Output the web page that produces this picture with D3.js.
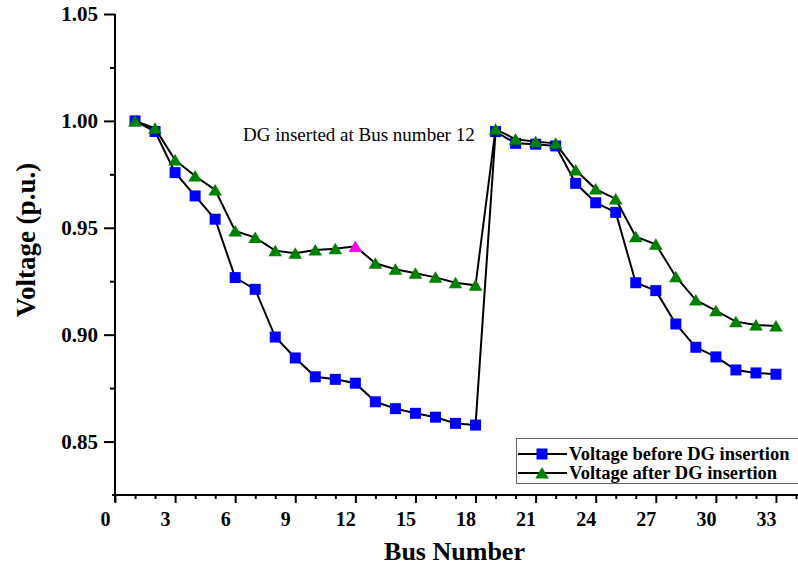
<!DOCTYPE html>
<html>
<head>
<meta charset="utf-8">
<script src="https://d3js.org/d3.v7.min.js"></script>
<style>
  html, body { margin: 0; padding: 0; background: #fff; }
  svg { display: block; }
  text { font-family: "Liberation Serif", "Times New Roman", serif; }
</style>
</head>
<body>
<svg id="chart" width="798" height="566"></svg>
<script>
// ---------- data ----------
const buses = [1,2,3,4,5,6,7,8,9,10,11,12,13,14,15,16,17,18,19,20,21,22,23,24,25,26,27,28,29,30,31,32,33];
const voltageBefore = [1.000,0.995,0.9758,0.9649,0.9540,0.9267,0.9212,0.8989,0.8891,0.8803,0.8791,0.8773,
  0.8686,0.8654,0.8632,0.8614,0.8585,0.8577,0.9950,0.9895,0.9891,0.9883,0.9708,0.9617,0.9572,0.9243,
  0.9206,0.9050,0.8941,0.8896,0.8835,0.8821,0.8815];
const voltageAfter = [1.000,0.9965,0.9817,0.9742,0.9677,0.9485,0.9454,0.9393,0.9381,0.9396,0.9402,0.9413,
  0.9334,0.9306,0.9287,0.9268,0.9243,0.9231,0.9961,0.9914,0.9903,0.9895,0.9770,0.9681,0.9635,0.9458,
  0.9423,0.9271,0.9162,0.9112,0.9061,0.9045,0.9041];
const dgBus = 12;
const xTicks = [0,3,6,9,12,15,18,21,24,27,30,33];
const xMinorTicks = [1,2,4,5,7,8,10,11,13,14,16,17,19,20,22,23,25,26,28,29,31,32,34];
const yTicks = [0.85,0.90,0.95,1.00,1.05];
const yMinorTicks = [0.875,0.925,0.975,1.025];
const seriesNames = ["Voltage before DG insertion","Voltage after DG insertion"];
const annotation = "DG inserted at Bus number 12";

(function () {
// ---------- layout ----------
const svg = d3.select("#chart");
const pL = 115, pR = 796, pT = 14, pB = 495;
const x = d3.scaleLinear().domain([0, 34]).range([pL, pR]);
const y = d3.scaleLinear().domain([0.825, 1.05]).range([pB, pT]);
const font = '"Liberation Serif", "Times New Roman", serif';

// minor ticks
svg.append("g").attr("transform", `translate(0,${pB})`)
  .call(d3.axisBottom(x).tickValues(xMinorTicks).tickSize(4).tickFormat(""))
  .call(g => g.select(".domain").remove())
  .call(g => g.selectAll("line").attr("stroke", "#000").attr("stroke-width", 2));
svg.append("g").attr("transform", `translate(${pL},0)`)
  .call(d3.axisLeft(y).tickValues(yMinorTicks).tickSize(5).tickFormat(""))
  .call(g => g.select(".domain").remove())
  .call(g => g.selectAll("line").attr("stroke", "#000").attr("stroke-width", 2));

// major x axis
const gx = svg.append("g").attr("transform", `translate(0,${pB})`)
  .call(d3.axisBottom(x).tickValues(xTicks).tickSize(8).tickSizeOuter(0).tickPadding(9).tickFormat(d3.format("d")));
gx.select(".domain").attr("stroke", "#000").attr("stroke-width", 2).attr("d", `M${pL - 3},0H${pR + 2}`);
gx.selectAll("line").attr("stroke", "#000").attr("stroke-width", 2);
gx.selectAll("text").attr("fill", "#000").attr("dx", -10)
  .style("font-family", font).style("font-size", "20px").style("font-weight", "bold");

// major y axis
const gy = svg.append("g").attr("transform", `translate(${pL},0)`)
  .call(d3.axisLeft(y).tickValues(yTicks).tickSize(11).tickSizeOuter(0).tickPadding(6).tickFormat(d3.format(".2f")));
gy.select(".domain").attr("stroke", "#000").attr("stroke-width", 2).attr("d", `M0,${pT}V${pB + 7}`);
gy.selectAll("line").attr("stroke", "#000").attr("stroke-width", 2);
gy.selectAll("text").attr("fill", "#000").style("font-family", font).style("font-size", "21px").style("font-weight", "bold");

// axis titles
svg.append("text").attr("x", (pL + pR) / 2 - 1).attr("y", 560).attr("text-anchor", "middle")
  .style("font-size", "26px").style("font-weight", "bold").text("Bus Number");
svg.append("text").attr("transform", `translate(35,240) rotate(-90)`)
  .attr("text-anchor", "middle").style("font-size", "27px").style("font-weight", "bold").text("Voltage (p.u.)");

// ---------- series ----------
const line = d3.line().x((d, i) => x(buses[i])).y(d => y(d));
const triPath = (cx, cy) => `M${cx},${cy - 6}L${cx + 6.8},${cy + 5.5}L${cx - 6.8},${cy + 5.5}Z`;

svg.append("path").datum(voltageBefore).attr("d", line)
  .attr("fill", "none").attr("stroke", "#000").attr("stroke-width", 2);
svg.append("g").selectAll("rect").data(voltageBefore).join("rect")
  .attr("x", (d, i) => x(buses[i]) - 5.5).attr("y", d => y(d) - 5.5)
  .attr("width", 11).attr("height", 11).attr("fill", "#0000ff");

svg.append("path").datum(voltageAfter).attr("d", line)
  .attr("fill", "none").attr("stroke", "#000").attr("stroke-width", 2);
svg.append("g").selectAll("path").data(voltageAfter).join("path")
  .attr("d", (d, i) => triPath(x(buses[i]), y(d)))
  .attr("fill", (d, i) => buses[i] === dgBus ? "#ff00ff" : "#008000");

// annotation
svg.append("text").attr("x", 243).attr("y", 141).style("font-size", "19px").attr("fill", "#000").text(annotation);

// ---------- legend ----------
const lg = svg.append("g");
lg.append("rect").attr("x", 516.5).attr("y", 438.5).attr("width", 300).attr("height", 45)
  .attr("fill", "#fff").attr("stroke", "#666").attr("stroke-width", 1);
const rows = [454, 473];
seriesNames.forEach((name, k) => {
  const cy = rows[k];
  lg.append("line").attr("x1", 518).attr("x2", 567).attr("y1", cy).attr("y2", cy)
    .attr("stroke", "#000").attr("stroke-width", 2);
  if (k === 0) {
    lg.append("rect").attr("x", 536.5).attr("y", cy - 5.5).attr("width", 11).attr("height", 11).attr("fill", "#0000ff");
  } else {
    lg.append("path").attr("d", triPath(542, cy)).attr("fill", "#008000");
  }
  lg.append("text").attr("x", 569).attr("y", cy).attr("dy", "0.35em")
    .style("font-size", "18.5px").style("font-weight", "bold").text(name);
});
})();
</script>
</body>
</html>
